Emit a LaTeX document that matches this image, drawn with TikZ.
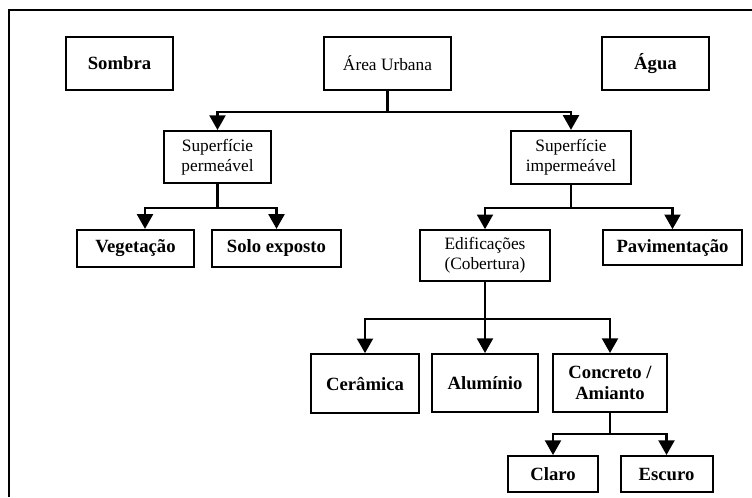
\documentclass[tikz,border=0pt]{standalone}
\usepackage{fontspec}
\setmainfont{Liberation Serif}
\usetikzlibrary{calc,positioning,arrows.meta}

\tikzset{
  box/.style={draw,line width=1.5pt,inner sep=0pt,align=center,font=\fontsize{13}{15}\selectfont},
  boldbox/.style={box,font=\fontsize{14}{16}\selectfont\bfseries},
  link/.style={line width=1.6pt},
  arrow/.style={link,-{Triangle[length=11pt,width=12pt]}},
}

\begin{document}
\begin{tikzpicture}[x=0.75pt,y=-0.75pt]
\useasboundingbox (0,0) rectangle (752,497);

% Frame (only top and left edges show)
\draw[line width=1.5pt] (9,497) -- (9,10) -- (752,10);

% Top row
\node[boldbox,minimum width=80pt,minimum height=40pt] (sombra) at (119.5,63.5) {Sombra};
\node[box,minimum width=95pt,minimum height=40pt] (area) at (387.5,63.5) {Área Urbana};
\node[boldbox,minimum width=80pt,minimum height=40pt] (agua) at (655.5,63.5) {Água};

% Surfaces
\node[box,minimum width=80pt,minimum height=39pt] (perm) at (217.5,157) {Superfície\\permeável};
\node[box,minimum width=90pt,minimum height=40pt] (imperm) at (571,157.5) {Superfície\\impermeável};

% Permeable classes
\node[boldbox,minimum width=88pt,minimum height=28pt] (veg) at (135.5,248.5) {Vegetação};
\node[boldbox,minimum width=97pt,minimum height=28pt] (solo) at (276.5,248.5) {Solo exposto};

% Impermeable classes
\node[box,minimum width=97pt,minimum height=38pt] (edif) at (485,255.5) {Edificações\\(Cobertura)};
\node[boldbox,minimum width=104pt,minimum height=26pt] (pav) at (672.5,247.5) {Pavimentação};

% Roof materials
\node[boldbox,minimum width=81pt,minimum height=44pt] (ceram) at (365,383.5) {Cerâmica};
\node[boldbox,minimum width=79.5pt,minimum height=43.5pt] (alum) at (485,383) {Alumínio};
\node[boldbox,minimum width=85.5pt,minimum height=43.5pt] (concreto) at (610,383) {Concreto /\\Amianto};

% Concrete tones
\node[boldbox,minimum width=67.5pt,minimum height=27pt] (claro) at (553,474) {Claro};
\node[boldbox,minimum width=69pt,minimum height=27pt] (escuro) at (666.5,474) {Escuro};

% Connectors
\coordinate (busA) at ($(area.south)+(0,21)$);
\draw[link] (area.south) -- (busA);
\draw[arrow] (busA) -| (perm.north);
\draw[arrow] (busA) -| (imperm.north);

\coordinate (busP) at ($(perm.south)+(0,24)$);
\draw[link] (perm.south) -- (busP);
\draw[arrow] (busP) -| ($(veg.north)+(9.5,0)$);
\draw[arrow] (busP) -| (solo.north);

\coordinate (busI) at ($(imperm.south)+(0,23)$);
\draw[link] (imperm.south) -- (busI);
\draw[arrow] (busI) -| (edif.north);
\draw[arrow] (busI) -| (pav.north);

\coordinate (busE) at ($(edif.south)+(0,37)$);
\draw[arrow] (edif.south) -- (alum.north);
\draw[arrow] (busE) -| (ceram.north);
\draw[arrow] (busE) -| (concreto.north);

\coordinate (busC) at ($(concreto.south)+(0,21)$);
\draw[link] (concreto.south) -- (busC);
\draw[arrow] (busC) -| (claro.north);
\draw[arrow] (busC) -| (escuro.north);
\end{tikzpicture}
\end{document}
